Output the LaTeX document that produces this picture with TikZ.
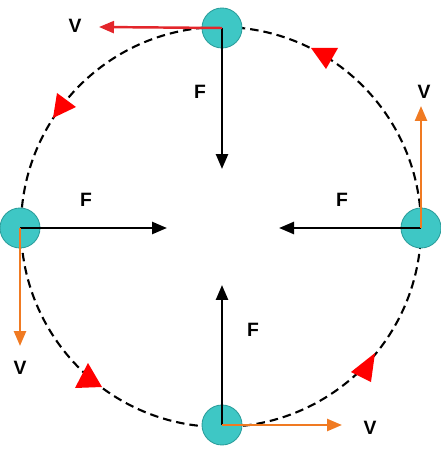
\documentclass[tikz,border=0pt]{standalone}
\usepackage{fontspec}
\setmainfont{Liberation Sans}
\usetikzlibrary{arrows.meta,positioning}
\definecolor{ballcyan}{HTML}{3EC7C5}
\definecolor{balledge}{HTML}{2B9E9C}
\definecolor{velorange}{HTML}{F07A22}
\definecolor{velred}{HTML}{E3262B}
\tikzset{
  ball/.style    = {circle, draw=balledge, fill=ballcyan, line width=0.5pt,
                    minimum size=0.8cm, inner sep=0pt},
  orbit/.style   = {black, line width=1.2pt, dash pattern=on 0.17cm off 0.1cm},
  force/.style   = {-{Triangle[length=0.3cm,width=0.24cm]}, line width=1.4pt, black},
  velo/.style    = {-{Triangle[length=0.3cm,width=0.24cm]}, line width=1.4pt, velorange},
  velr/.style    = {-{Triangle[length=0.3cm,width=0.24cm]}, line width=1.4pt, velred},
  lbl/.style     = {font=\fontsize{11}{13}\selectfont\bfseries, inner sep=0pt},
  dirmark/.style = {fill=red, draw=none},
}

\begin{document}
\begin{tikzpicture}[x=0.02cm, y=-0.02cm]
\useasboundingbox (0,0) rectangle (440,449);
% orbit
\draw[orbit] (221,227) circle [radius=200];
% direction marks on the orbit
\fill[dirmark] (57,93) -- (76,107) -- (53,118) -- cycle;
\fill[dirmark] (311,48) -- (338,48) -- (326,69) -- cycle;
\fill[dirmark] (88,363) -- (75,388) -- (102,387) -- cycle;
\fill[dirmark] (375,353) -- (351,372) -- (371,382) -- cycle;
% balls
\node[ball] (top)    at (222,28)  {};
\node[ball] (right)  at (421,228) {};
\node[ball] (left)   at (20,228)  {};
\node[ball] (bottom) at (222,425) {};
% arrow ends
\coordinate (ftop)    at (222,169);
\coordinate (fright)  at (279,228);
\coordinate (fleft)   at (167,228);
\coordinate (fbottom) at (222,285);
\coordinate (vtop)    at (99,27);
\coordinate (vright)  at (421,106);
\coordinate (vleft)   at (20,346);
\coordinate (vbottom) at (342,425);
% forces
\draw[force] (top.center)    -- (ftop);
\draw[force] (right.center)  -- (fright);
\draw[force] (left.center)   -- (fleft);
\draw[force] (bottom.center) -- (fbottom);
% velocities
\draw[velr] (top.center)    -- (vtop);
\draw[velo] (right.center)  -- (vright);
\draw[velo] (left.center)   -- (vleft);
\draw[velo] (bottom.center) -- (vbottom);
% labels
\node[lbl] (Ftop)    at (200,92)  {F};
\node[lbl] (Fright)  at (342,200) {F};
\node[lbl] (Fleft)   at (86,200)  {F};
\node[lbl] (Fbottom) at (253,330) {F};
\node[lbl] (Vtop)    at (75,26)   {V};
\node[lbl] (Vright)  at (424,92)  {V};
\node[lbl] (Vleft)   at (20,368)  {V};
\node[lbl] (Vbottom) at (370,428) {V};
\end{tikzpicture}
\end{document}
